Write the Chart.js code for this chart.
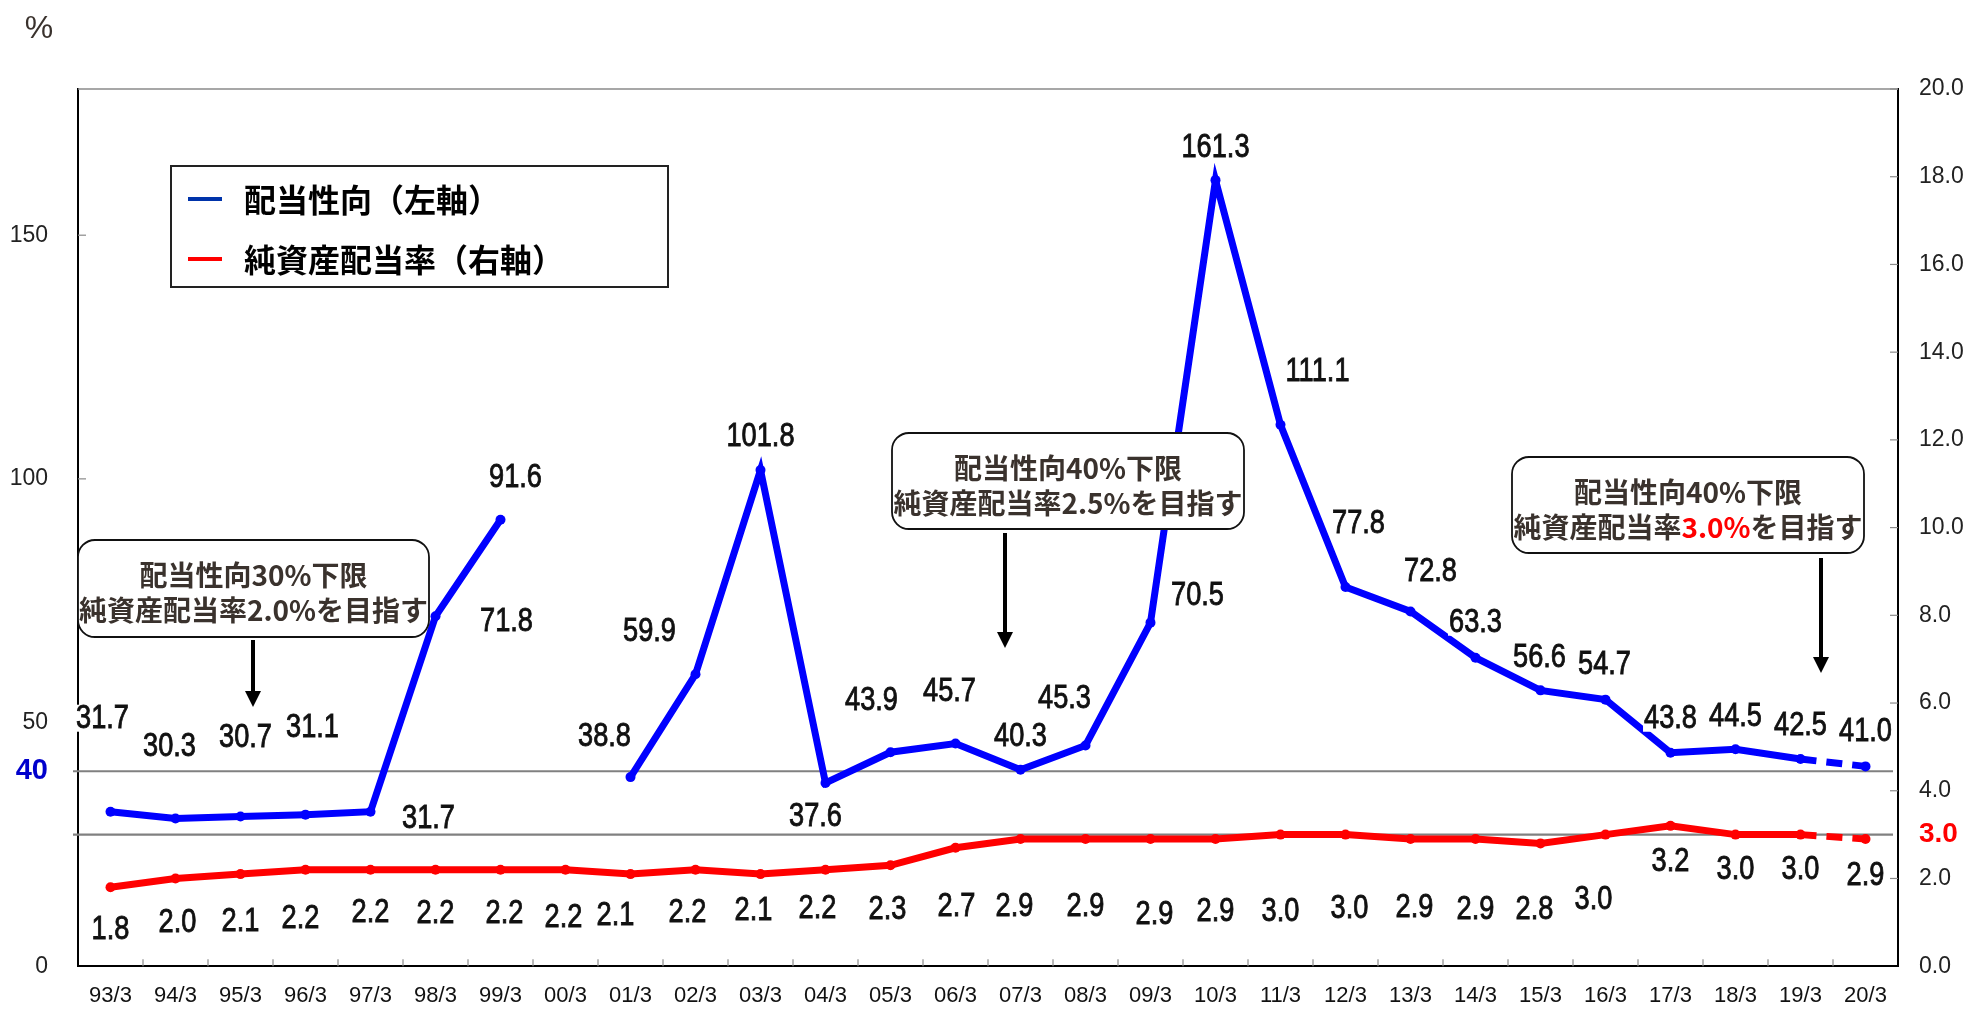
<!DOCTYPE html>
<html><head><meta charset="utf-8">
<script src="https://cdn.jsdelivr.net/npm/chart.js@4.4.1/dist/chart.umd.min.js"></script>
<style>html,body{margin:0;padding:0;background:#fff}#wrap{width:1968px;height:1010px;position:relative}</style>
</head><body><div id="wrap"><canvas id="c" width="1968" height="1010"></canvas></div>
<script>
// ---------- data ----------
const categories = ['93/3','94/3','95/3','96/3','97/3','98/3','99/3','00/3','01/3','02/3','03/3','04/3','05/3','06/3','07/3','08/3','09/3','10/3','11/3','12/3','13/3','14/3','15/3','16/3','17/3','18/3','19/3','20/3'];
const payoutRatio = [31.7,30.3,30.7,31.1,31.7,71.8,91.6,null,38.8,59.9,101.8,37.6,43.9,45.7,40.3,45.3,70.5,161.3,111.1,77.8,72.8,63.3,56.6,54.7,43.8,44.5,42.5,41.0];
const doeRatio = [1.8,2.0,2.1,2.2,2.2,2.2,2.2,2.2,2.1,2.2,2.1,2.2,2.3,2.7,2.9,2.9,2.9,2.9,3.0,3.0,2.9,2.9,2.8,3.0,3.2,3.0,3.0,2.9];
const seriesNames = ['配当性向（左軸）','純資産配当率（右軸）'];
const leftTicks = [0,50,100,150];
const leftMarker = 40;
const rightTicks = [0,2,4,6,8,10,12,14,16,18,20];
const rightMarker = 3.0;
const unitLabel = '%';
const notes = [
  ['配当性向30%下限', [['純資産配当率2.0%を目指す', false]]],
  ['配当性向40%下限', [['純資産配当率2.5%を目指す', false]]],
  ['配当性向40%下限', [['純資産配当率', false], ['3.0%', true], ['を目指す', false]]]
];

// ---------- label placement (pixel offsets from each point) ----------
const blueLabelOffsets = [[-8,-94],[-6,-73],[5,-80],[7,-88],[58,6],[71,4],[15,-43],null,[-26,-41],[-46,-44],[0,-34],[-10,33],[-19,-53],[-6,-53],[0,-34],[-21,-48],[47,-28],[0,-34],[37,-54],[13,-64],[20,-41],[0,-36],[-1,-34],[-1,-36],[0,-35],[0,-34],[0,-34],[0,-36]];
const redLabelOffsets = [[0,41],[2,43],[0,47],[-5,48],[0,42],[0,43],[4,43],[-2,47],[-15,41],[-8,42],[-7,36],[-8,38],[-3,43],[1,58],[-6,67],[0,67],[4,75],[0,72],[0,76],[4,73],[4,68],[0,70],[-6,65],[-12,64],[0,35],[0,34],[0,34],[0,36]];
// annotation boxes: [left, top, right, bottom], arrow [x, y0, y1]
const noteBoxes = [[78,540,429,637],[892,433,1244,529],[1512,457,1864,553]];
const noteArrows = [[253,640,707],[1005,533,648],[1821,558,673]];

const BLUE = '#0000ff', RED = '#ff0000';
const LEGEND_COLORS = ['#0033aa', '#ff0000'];
const TEXT_DARK = '#3a322d';
const NUM_FONT = '"Liberation Sans",Arial,sans-serif';
const CJK_FONT = '"Noto Sans CJK JP","Noto Sans",sans-serif';
const last = categories.length - 1;
const dashLast = c => c.p1DataIndex === last ? [16, 10] : undefined;

const decor = {
  id: 'decor',
  beforeDatasetsDraw(chart) {
    const {ctx, chartArea: a, scales} = chart;
    ctx.save();
    ctx.strokeStyle = '#8a8a8a'; ctx.lineWidth = 1.5;
    ctx.beginPath(); ctx.moveTo(a.left, a.top); ctx.lineTo(a.right, a.top); ctx.stroke();
    ctx.lineWidth = 1.2; ctx.strokeStyle = '#8a8a8a';
    leftTicks.forEach(v => { if (v === 0) return; const y = scales.y.getPixelForValue(v);
      ctx.beginPath(); ctx.moveTo(a.left, y); ctx.lineTo(a.left + 8, y); ctx.stroke(); });
    rightTicks.forEach(v => { if (v === 0) return; const y = scales.y1.getPixelForValue(v);
      ctx.beginPath(); ctx.moveTo(a.right, y); ctx.lineTo(a.right - 8, y); ctx.stroke(); });
    for (let i = 1; i < categories.length; i++) {
      const x = (scales.x.getPixelForValue(i - 1) + scales.x.getPixelForValue(i)) / 2;
      ctx.beginPath(); ctx.moveTo(x, a.bottom); ctx.lineTo(x, a.bottom - 7); ctx.stroke();
    }
    ctx.strokeStyle = '#808080'; ctx.lineWidth = 2.2;
    [scales.y.getPixelForValue(leftMarker), scales.y1.getPixelForValue(rightMarker)].forEach(y => {
      ctx.beginPath(); ctx.moveTo(a.left - 5, y); ctx.lineTo(a.right - 5, y); ctx.stroke();
    });
    ctx.restore();
  },
  afterDatasetsDraw(chart) {
    const ctx = chart.ctx;
    const SX = 0.8;
    ctx.save();
    ctx.font = '34px ' + NUM_FONT;
    ctx.textAlign = 'center'; ctx.textBaseline = 'middle';
    [[0, blueLabelOffsets], [1, redLabelOffsets]].forEach(([di, offs]) => {
      const meta = chart.getDatasetMeta(di);
      const data = chart.data.datasets[di].data;
      meta.data.forEach((pt, i) => {
        if (data[i] == null || !offs[i]) return;
        const txt = data[i].toFixed(1);
        const x = pt.x + offs[i][0], y = pt.y + offs[i][1];
        const w = ctx.measureText(txt).width * SX;
        ctx.fillStyle = '#fff'; ctx.fillRect(x - w / 2 - 1, y - 13, w + 2, 27);
        ctx.save();
        ctx.translate(x, y + 1); ctx.scale(SX, 1);
        ctx.fillStyle = '#111'; ctx.fillText(txt, 0, 0);
        ctx.strokeStyle = '#111'; ctx.lineWidth = 0.9; ctx.strokeText(txt, 0, 0);
        ctx.restore();
      });
    });
    ctx.restore();
  },
  afterDraw(chart) {
    const ctx = chart.ctx;
    ctx.save();
    ctx.fillStyle = TEXT_DARK; ctx.font = '32px "Liberation Sans",sans-serif';
    ctx.textAlign = 'center'; ctx.textBaseline = 'middle';
    ctx.fillText(unitLabel, 39, 29);
    // legend
    const L = [171, 166, 668, 287];
    ctx.fillStyle = '#fff'; ctx.fillRect(L[0], L[1], L[2] - L[0], L[3] - L[1]);
    ctx.strokeStyle = '#222'; ctx.lineWidth = 2; ctx.strokeRect(L[0], L[1], L[2] - L[0], L[3] - L[1]);
    ctx.font = 'bold 32px ' + CJK_FONT; ctx.textAlign = 'left';
    chart.data.datasets.forEach((ds, i) => {
      const y = [199, 259][i];
      ctx.strokeStyle = LEGEND_COLORS[i]; ctx.lineWidth = 4;
      ctx.beginPath(); ctx.moveTo(188, y); ctx.lineTo(222, y); ctx.stroke();
      ctx.fillStyle = '#000'; ctx.fillText(ds.label, 244, y + 1);
    });
    // annotation boxes
    noteBoxes.forEach((b, k) => {
      const [l, t, r, bt] = b, rad = 17;
      ctx.beginPath();
      ctx.roundRect(l, t, r - l, bt - t, rad);
      ctx.fillStyle = '#fff'; ctx.fill();
      ctx.strokeStyle = '#111'; ctx.lineWidth = 1.8; ctx.stroke();
      const cx = (l + r) / 2;
      ctx.font = 'bold 28px ' + CJK_FONT; ctx.textAlign = 'left'; ctx.textBaseline = 'middle';
      const l1 = notes[k][0];
      const w1 = ctx.measureText(l1).width;
      ctx.fillStyle = TEXT_DARK; ctx.fillText(l1, cx - w1 / 2, t + 35);
      const parts = notes[k][1];
      const tw = parts.reduce((s, p) => s + ctx.measureText(p[0]).width, 0);
      let x = cx - tw / 2;
      parts.forEach(p => { ctx.fillStyle = p[1] ? RED : TEXT_DARK; ctx.fillText(p[0], x, t + 70); x += ctx.measureText(p[0]).width; });
      const [ax, y0, y1] = noteArrows[k];
      ctx.strokeStyle = '#000'; ctx.lineWidth = 4;
      ctx.beginPath(); ctx.moveTo(ax, y0); ctx.lineTo(ax, y1 - 14); ctx.stroke();
      ctx.fillStyle = '#000';
      ctx.beginPath(); ctx.moveTo(ax - 8, y1 - 16); ctx.lineTo(ax + 8, y1 - 16); ctx.lineTo(ax, y1); ctx.closePath(); ctx.fill();
    });
    ctx.restore();
  }
};

const tickFont = '"Liberation Sans",sans-serif';
new Chart(document.getElementById('c'), {
  type: 'line',
  data: {
    labels: categories,
    datasets: [
      { label: seriesNames[0], data: payoutRatio, yAxisID: 'y', borderColor: BLUE, backgroundColor: BLUE,
        borderWidth: 7, pointRadius: 5, pointBackgroundColor: BLUE, pointBorderWidth: 0, spanGaps: false,
        tension: 0, segment: { borderDash: dashLast } },
      { label: seriesNames[1], data: doeRatio, yAxisID: 'y1', borderColor: RED, backgroundColor: RED,
        borderWidth: 7, pointRadius: 5, pointBackgroundColor: RED, pointBorderWidth: 0,
        tension: 0, segment: { borderDash: dashLast } }
    ]
  },
  options: {
    responsive: false, animation: false,
    layout: { padding: { top: 89, left: 0, right: 0, bottom: 0 } },
    plugins: { legend: { display: false }, tooltip: { enabled: false } },
    scales: {
      x: {
        offset: true,
        grid: { display: false, drawTicks: false },
        border: { display: true, color: '#000', width: 2 },
        ticks: { autoSkip: false, maxRotation: 0, padding: 17, color: '#111', font: { family: tickFont, size: 22 } },
        afterFit: s => { s.height = 38; }
      },
      y: {
        position: 'left', min: 0, max: 180,
        afterBuildTicks: s => { s.ticks = [...leftTicks, leftMarker].sort((a, b) => a - b).map(v => ({ value: v })); },
        grid: { display: false, drawTicks: false },
        border: { display: true, color: '#000', width: 2 },
        ticks: {
          padding: 30,
          callback: v => String(v),
          color: c => c.tick.value === leftMarker ? '#0000cc' : '#222',
          font: c => c.tick && c.tick.value === leftMarker ? { family: tickFont, size: 29, weight: 'bold' } : { family: tickFont, size: 23 }
        },
        afterFit: s => { s.width = 78; }
      },
      y1: {
        position: 'right', min: 0, max: 20,
        afterBuildTicks: s => { s.ticks = [...rightTicks, rightMarker].sort((a, b) => a - b).map(v => ({ value: v })); },
        grid: { display: false, drawTicks: false, drawOnChartArea: false },
        border: { display: true, color: '#000', width: 2 },
        ticks: {
          padding: 21,
          callback: v => Number(v).toFixed(1),
          color: c => c.tick.value === rightMarker ? RED : '#222',
          font: c => c.tick && c.tick.value === rightMarker ? { family: tickFont, size: 28, weight: 'bold' } : { family: tickFont, size: 23 }
        },
        afterFit: s => { s.width = 70; }
      }
    }
  },
  plugins: [decor]
});
</script></body></html>
